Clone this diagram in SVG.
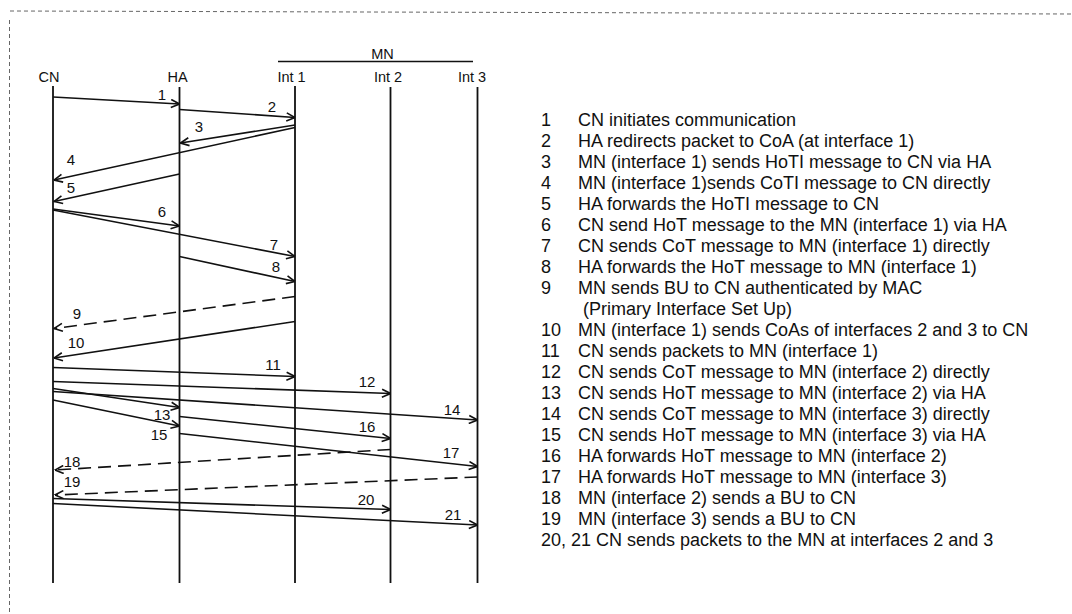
<svg xmlns="http://www.w3.org/2000/svg" width="1072" height="614" viewBox="0 0 1072 614">
<style>
  .bg{fill:#fff}
  .life{stroke:#111;stroke-width:1.8;fill:none}
  .msg{stroke:#111;stroke-width:1.6;fill:none;marker-end:url(#arr)}
  .dash{stroke-dasharray:13 7}
  .hdr{font-family:"Liberation Sans",Arial,sans-serif;font-size:14.5px;fill:#111;text-anchor:middle}
  .lbl{font-family:"Liberation Sans",Arial,sans-serif;font-size:15px;fill:#111;text-anchor:middle}
  .leg{font-family:"Liberation Sans",Arial,sans-serif;font-size:18px;fill:#111}
  .border{stroke:#666;stroke-width:1;stroke-dasharray:4 3;fill:none}
</style>
<defs>
  <marker id="arr" viewBox="0 0 10 10" refX="9.5" refY="5" markerWidth="10" markerHeight="10" markerUnits="userSpaceOnUse" orient="auto">
    <path d="M1,1 L9.5,5 L1,9" fill="none" stroke="#111" stroke-width="1.6"/>
  </marker>
</defs>
<rect class="bg" x="0" y="0" width="1072" height="614"/>
<g id="border">
  <line class="border" x1="10" y1="11" x2="1072" y2="14"/>
  <line class="border" x1="9.5" y1="20" x2="9.5" y2="614"/>
</g>
<g id="CN">
  <text class="hdr" x="49" y="82">CN</text>
  <line class="life" x1="53" y1="86" x2="53" y2="583"/>
</g>
<g id="HA">
  <text class="hdr" x="177.5" y="82">HA</text>
  <line class="life" x1="179.5" y1="87" x2="179.5" y2="583"/>
</g>
<g id="MN">
  <text class="hdr" x="382.5" y="58.5">MN</text>
  <line class="life" x1="278" y1="61.5" x2="473" y2="61.5" style="stroke-width:1.5"/>
</g>
<g id="Int1">
  <text class="hdr" x="291.5" y="82">Int 1</text>
  <line class="life" x1="295" y1="86" x2="295" y2="583"/>
</g>
<g id="Int2">
  <text class="hdr" x="388" y="82">Int 2</text>
  <line class="life" x1="390.5" y1="87" x2="390.5" y2="583"/>
</g>
<g id="Int3">
  <text class="hdr" x="472" y="82">Int 3</text>
  <line class="life" x1="477.5" y1="87" x2="477.5" y2="583"/>
</g>
<g id="connectors">
  <line class="msg" x1="53" y1="97" x2="179.5" y2="104"/>
  <line class="msg" x1="179.5" y1="109.5" x2="295" y2="117.5"/>
  <line class="msg" x1="295" y1="125" x2="180.5" y2="143"/>
  <line class="msg" x1="295" y1="127.5" x2="54" y2="180"/>
  <line class="msg" x1="179.5" y1="174" x2="54" y2="201.5"/>
  <line class="msg" x1="53" y1="209" x2="179.5" y2="226"/>
  <line class="msg" x1="53" y1="210" x2="295" y2="256.5"/>
  <line class="msg" x1="179.5" y1="256.5" x2="295" y2="281.5"/>
  <line class="msg dash" x1="295" y1="296.5" x2="54" y2="328.5"/>
  <line class="msg" x1="295" y1="321.5" x2="54" y2="358"/>
  <line class="msg" x1="53" y1="367.5" x2="295" y2="376.5"/>
  <line class="msg" x1="53" y1="381.5" x2="390.5" y2="393.5"/>
  <line class="msg" x1="53" y1="388.5" x2="179.5" y2="407.5"/>
  <line class="msg" x1="53" y1="391.5" x2="477.5" y2="420"/>
  <line class="msg" x1="53" y1="400" x2="179.5" y2="426"/>
  <line class="msg" x1="179.5" y1="416.5" x2="390.5" y2="438.5"/>
  <line class="msg" x1="179.5" y1="433.5" x2="477.5" y2="466.5"/>
  <line class="msg dash" x1="390.5" y1="449.5" x2="55" y2="470"/>
  <line class="msg dash" x1="477.5" y1="477" x2="55" y2="495"/>
  <line class="msg" x1="53" y1="498.5" x2="390.5" y2="509.5"/>
  <line class="msg" x1="53" y1="503.5" x2="477.5" y2="525"/>
</g>
<g id="labels">
  <text class="lbl" x="162" y="100">1</text>
  <text class="lbl" x="272" y="112">2</text>
  <text class="lbl" x="199" y="132">3</text>
  <text class="lbl" x="71" y="165">4</text>
  <text class="lbl" x="71" y="193">5</text>
  <text class="lbl" x="162" y="217">6</text>
  <text class="lbl" x="274" y="250">7</text>
  <text class="lbl" x="276" y="272">8</text>
  <text class="lbl" x="77" y="319">9</text>
  <text class="lbl" x="76" y="348">10</text>
  <text class="lbl" x="273" y="370">11</text>
  <text class="lbl" x="367" y="387">12</text>
  <text class="lbl" x="162" y="420">13</text>
  <text class="lbl" x="452" y="415">14</text>
  <text class="lbl" x="159" y="440">15</text>
  <text class="lbl" x="367" y="432">16</text>
  <text class="lbl" x="451" y="458">17</text>
  <text class="lbl" x="72" y="467">18</text>
  <text class="lbl" x="72" y="487">19</text>
  <text class="lbl" x="366" y="505">20</text>
  <text class="lbl" x="453" y="520">21</text>
</g>
<g id="legend">
  <text class="leg" x="541" y="126">1</text><text class="leg" x="578" y="126">CN initiates communication</text>
  <text class="leg" x="541" y="147">2</text><text class="leg" x="578" y="147">HA redirects packet to CoA (at interface 1)</text>
  <text class="leg" x="541" y="168">3</text><text class="leg" x="578" y="168">MN (interface 1)  sends HoTI message to CN via HA</text>
  <text class="leg" x="541" y="189">4</text><text class="leg" x="578" y="189">MN (interface 1)sends  CoTI message to CN directly</text>
  <text class="leg" x="541" y="210">5</text><text class="leg" x="578" y="210">HA forwards the HoTI message to CN</text>
  <text class="leg" x="541" y="231">6</text><text class="leg" x="578" y="231">CN send HoT message to the MN (interface 1) via HA</text>
  <text class="leg" x="541" y="252">7</text><text class="leg" x="578" y="252">CN sends CoT message to MN (interface 1) directly</text>
  <text class="leg" x="541" y="273">8</text><text class="leg" x="578" y="273">HA forwards the HoT message to MN (interface 1)</text>
  <text class="leg" x="541" y="294">9</text><text class="leg" x="578" y="294">MN  sends BU to CN authenticated by MAC</text>
  <text class="leg" x="583" y="315">(Primary Interface Set Up)</text>
  <text class="leg" x="541" y="336">10</text><text class="leg" x="578" y="336">MN (interface 1) sends CoAs of interfaces 2 and 3  to CN</text>
  <text class="leg" x="541" y="357">11</text><text class="leg" x="578" y="357">CN sends packets to MN (interface 1)</text>
  <text class="leg" x="541" y="378">12</text><text class="leg" x="578" y="378">CN sends CoT message to MN (interface 2) directly</text>
  <text class="leg" x="541" y="399">13</text><text class="leg" x="578" y="399">CN sends HoT message to MN (interface 2) via HA</text>
  <text class="leg" x="541" y="420">14</text><text class="leg" x="578" y="420">CN sends CoT message to MN (interface 3) directly</text>
  <text class="leg" x="541" y="441">15</text><text class="leg" x="578" y="441">CN sends HoT message to MN (interface 3) via HA</text>
  <text class="leg" x="541" y="462">16</text><text class="leg" x="578" y="462">HA forwards HoT message to MN (interface 2)</text>
  <text class="leg" x="541" y="483">17</text><text class="leg" x="578" y="483">HA forwards HoT message to MN (interface 3)</text>
  <text class="leg" x="541" y="504">18</text><text class="leg" x="578" y="504">MN (interface 2) sends a BU to CN</text>
  <text class="leg" x="541" y="525">19</text><text class="leg" x="578" y="525">MN (interface 3) sends a BU to CN</text>
  <text class="leg" x="541" y="546">20, 21 CN sends packets to the MN at interfaces 2 and 3</text>
</g>
</svg>
